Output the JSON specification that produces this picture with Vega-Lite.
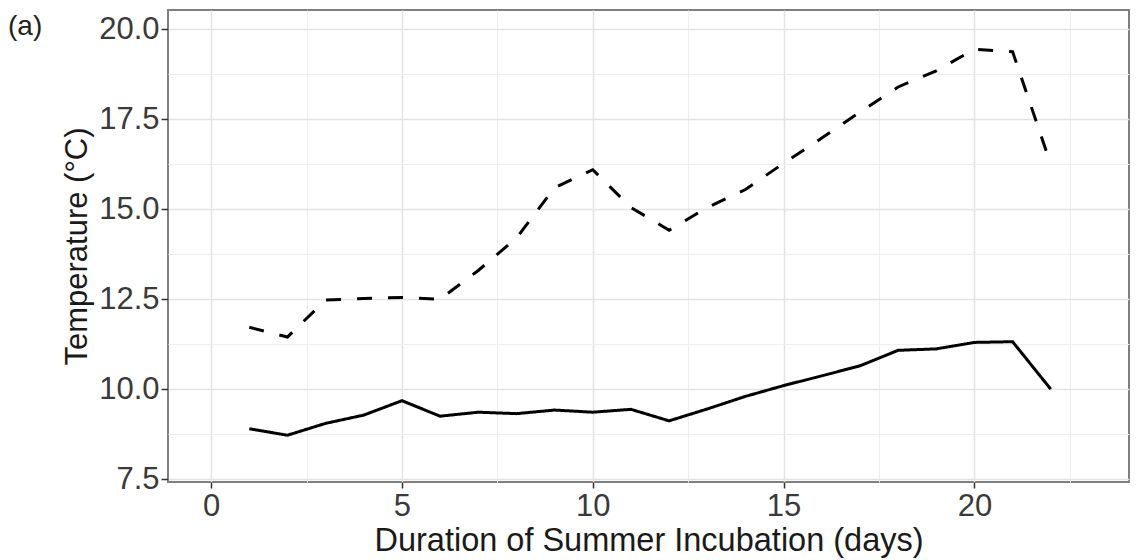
{
  "$schema": "https://vega.github.io/schema/vega-lite/v6.json",
  "width": 961,
  "height": 472,
  "autosize": {"type": "none"},
  "padding": {"left": 168, "top": 10, "right": 9, "bottom": 78},
  "background": "white",
  "title": {"text": "(a)", "anchor": "start", "orient": "top", "offset": 0, "dx": -160, "dy": 31, "fontSize": 28, "fontWeight": "normal", "color": "#222222", "font": "Liberation Sans", "frame": "group"},
  "data": {"values": [
    {"day": 1, "temp": 11.72, "series": "upper"},
    {"day": 2, "temp": 11.45, "series": "upper"},
    {"day": 3, "temp": 12.48, "series": "upper"},
    {"day": 4, "temp": 12.52, "series": "upper"},
    {"day": 5, "temp": 12.55, "series": "upper"},
    {"day": 6, "temp": 12.5, "series": "upper"},
    {"day": 7, "temp": 13.3, "series": "upper"},
    {"day": 8, "temp": 14.2, "series": "upper"},
    {"day": 9, "temp": 15.6, "series": "upper"},
    {"day": 10, "temp": 16.1, "series": "upper"},
    {"day": 11, "temp": 15.05, "series": "upper"},
    {"day": 12, "temp": 14.42, "series": "upper"},
    {"day": 13, "temp": 15.05, "series": "upper"},
    {"day": 14, "temp": 15.55, "series": "upper"},
    {"day": 15, "temp": 16.28, "series": "upper"},
    {"day": 16, "temp": 16.98, "series": "upper"},
    {"day": 17, "temp": 17.7, "series": "upper"},
    {"day": 18, "temp": 18.4, "series": "upper"},
    {"day": 19, "temp": 18.85, "series": "upper"},
    {"day": 20, "temp": 19.45, "series": "upper"},
    {"day": 21, "temp": 19.38, "series": "upper"},
    {"day": 22, "temp": 16.25, "series": "upper"},
    {"day": 1, "temp": 8.9, "series": "lower"},
    {"day": 2, "temp": 8.72, "series": "lower"},
    {"day": 3, "temp": 9.05, "series": "lower"},
    {"day": 4, "temp": 9.28, "series": "lower"},
    {"day": 5, "temp": 9.68, "series": "lower"},
    {"day": 6, "temp": 9.25, "series": "lower"},
    {"day": 7, "temp": 9.36, "series": "lower"},
    {"day": 8, "temp": 9.32, "series": "lower"},
    {"day": 9, "temp": 9.42, "series": "lower"},
    {"day": 10, "temp": 9.36, "series": "lower"},
    {"day": 11, "temp": 9.44, "series": "lower"},
    {"day": 12, "temp": 9.12, "series": "lower"},
    {"day": 13, "temp": 9.45, "series": "lower"},
    {"day": 14, "temp": 9.8, "series": "lower"},
    {"day": 15, "temp": 10.1, "series": "lower"},
    {"day": 16, "temp": 10.37, "series": "lower"},
    {"day": 17, "temp": 10.65, "series": "lower"},
    {"day": 18, "temp": 11.08, "series": "lower"},
    {"day": 19, "temp": 11.12, "series": "lower"},
    {"day": 20, "temp": 11.3, "series": "lower"},
    {"day": 21, "temp": 11.32, "series": "lower"},
    {"day": 22, "temp": 10.0, "series": "lower"}
  ]},
  "layer": [
    {
      "mark": {"type": "line", "strokeOpacity": 0},
      "encoding": {
        "x": {"field": "day", "type": "quantitative", "scale": {"domain": [-1.13, 24.05], "nice": false, "zero": false},
          "axis": {"orient": "top", "values": [2.5, 7.5, 12.5, 17.5, 22.5], "grid": true, "gridColor": "#eeeeee", "gridWidth": 1, "labels": false, "ticks": false, "domain": false, "title": null}},
        "y": {"field": "temp", "type": "quantitative", "scale": {"domain": [7.42, 20.54], "nice": false, "zero": false},
          "axis": {"orient": "right", "values": [8.75, 11.25, 13.75, 16.25, 18.75], "grid": true, "gridColor": "#eeeeee", "gridWidth": 1, "labels": false, "ticks": false, "domain": false, "title": null}},
        "detail": {"field": "series"}
      }
    },
    {
      "mark": {"type": "line", "color": "black", "strokeWidth": 3},
      "encoding": {
        "x": {"field": "day", "type": "quantitative", "scale": {"domain": [-1.13, 24.05], "nice": false, "zero": false},
          "axis": {"orient": "bottom", "values": [0, 5, 10, 15, 20], "grid": true, "gridColor": "#e3e3e3", "gridWidth": 1.5, "domain": false, "ticks": true, "tickSize": 6, "tickColor": "#333333", "tickWidth": 1.5, "labelFontSize": 31, "labelColor": "#3a3a3a", "labelPadding": 3, "labelFont": "Liberation Sans", "title": "Duration of Summer Incubation (days)", "titleFont": "Liberation Sans", "titleFontSize": 32.5, "titleFontWeight": "normal", "titleColor": "#1a1a1a", "titlePadding": 3}},
        "y": {"field": "temp", "type": "quantitative", "scale": {"domain": [7.42, 20.54], "nice": false, "zero": false},
          "axis": {"orient": "left", "values": [7.5, 10, 12.5, 15, 17.5, 20], "format": ".1f", "grid": true, "gridColor": "#e3e3e3", "gridWidth": 1.5, "domain": false, "ticks": true, "tickSize": 7, "tickColor": "#333333", "tickWidth": 1.5, "labelFontSize": 31, "labelColor": "#3a3a3a", "labelPadding": 2, "labelFont": "Liberation Sans", "title": "Temperature (°C)", "titleFont": "Liberation Sans", "titleFontSize": 31, "titleFontWeight": "normal", "titleColor": "#1a1a1a", "titlePadding": 5}},
        "strokeDash": {"field": "series", "type": "nominal", "scale": {"domain": ["upper", "lower"], "range": [[15, 16], [1, 0]]}, "legend": null}
      }
    }
  ],
  "resolve": {"axis": {"x": "independent", "y": "independent"}},
  "config": {
    "view": {"stroke": "#7f7f7f", "strokeWidth": 2},
    "font": "Liberation Sans"
  }
}
